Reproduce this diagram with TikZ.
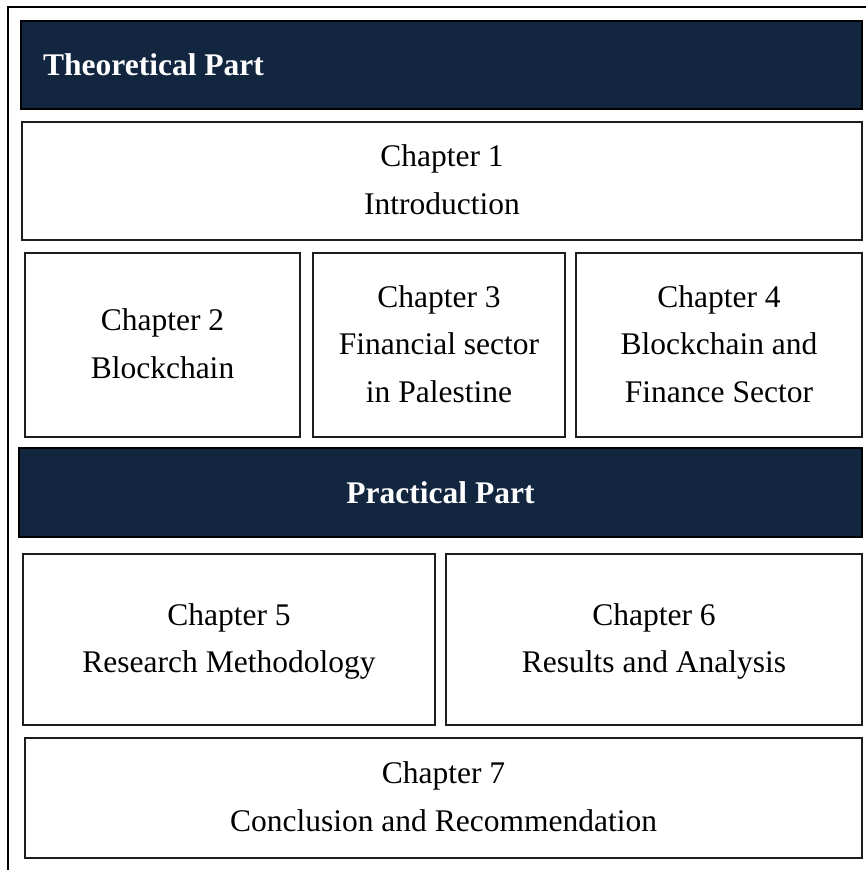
\documentclass[tikz,border=0pt]{standalone}
\usepackage{fontspec}
\setmainfont{Liberation Serif}
\definecolor{navy}{RGB}{18,38,63}
\definecolor{edge}{RGB}{30,30,30}
\tikzset{
  chapbox/.style={draw=edge, line width=1.6pt, fill=white, inner sep=0pt, align=center,
    font=\fontsize{31.5}{47.5}\selectfont},
  headbox/.style={draw=black, line width=1.6pt, fill=navy, inner sep=0pt, text=white,
    font=\fontsize{31.5}{40}\selectfont\bfseries},
  frameline/.style={draw=black, line width=2pt}
}
\newcommand{\boxat}[7][0]{% [text raise], name, x1, y1, x2, y2, text
  \node[chapbox, minimum width={(#5-#3)*1pt}, minimum height={(#6-#4)*1pt}]
    (#2) at ({(#3+#5)/2},{-(#4+#6)/2}) {\raisebox{#1pt}{\begin{tabular}{@{}c@{}}#7\end{tabular}}};}
\begin{document}
\begin{tikzpicture}[x=1pt,y=1pt]
\useasboundingbox (0,0) rectangle (865,-870);
\coordinate (fbl) at (8,-872);
\coordinate (ftl) at (8,-7);
\coordinate (ftr) at (867,-7);
\draw[frameline] (fbl) -- (ftl) -- (ftr);
% Theoretical header
\node[headbox, minimum width=841pt, minimum height=88pt] (theo) at (441.5,-65) {};
\node[text=white, font=\fontsize{31.5}{40}\selectfont\bfseries, anchor=west, inner sep=0pt] (theolab) at (43,-65) {Theoretical Part};
\boxat[2]{ch1}{22}{122}{862}{240}{Chapter 1\\Introduction}
\boxat{ch2}{25}{253}{300}{437}{Chapter 2\\Blockchain}
\boxat{ch3}{313}{253}{565}{437}{Chapter 3\\Financial sector\\in Palestine}
\boxat{ch4}{576}{253}{862}{437}{Chapter 4\\Blockchain and\\Finance Sector}
% Practical header
\node[headbox, minimum width=843pt, minimum height=89pt] (prac) at (440.5,-492.5) {Practical Part};
\boxat{ch5}{23}{554}{435}{725}{Chapter 5\\Research Methodology}
\boxat{ch6}{446}{554}{862}{725}{Chapter 6\\Results and Analysis}
\boxat[4]{ch7}{25}{738}{862}{858}{Chapter 7\\Conclusion and Recommendation}
\end{tikzpicture}
\end{document}
